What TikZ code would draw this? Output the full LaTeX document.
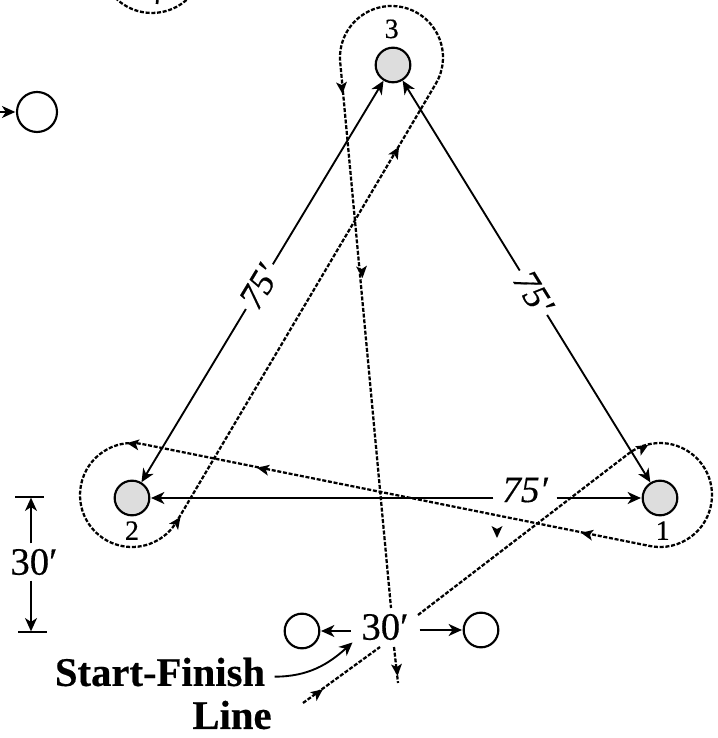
\documentclass[tikz,border=0pt]{standalone}
\usepackage{fontspec}
\setmainfont{Liberation Serif}[FakeBold=0.4]
\usepackage{tikz}
\usetikzlibrary{arrows.meta, positioning}
\definecolor{conegray}{RGB}{221,221,221}
\tikzset{
  cone/.style={circle, draw=black, fill=conegray, line width=1.6pt, minimum size=26pt, inner sep=0pt},
  gate/.style={circle, draw=black, fill=white, line width=1.6pt, minimum size=26pt, inner sep=0pt},
  conelabel/.style={font=\fontsize{21}{21}\selectfont, inner sep=0pt},
  lengthlabel/.style={font=\fontsize{29}{29}\selectfont, inner xsep=8pt, inner ysep=4pt},
  baselabel/.style={font=\fontsize{28}{28}\selectfont\itshape, inner xsep=6.5pt, inner ysep=4pt},
  slopedlabel/.style={font=\fontsize{27}{27}\selectfont\itshape, inner xsep=3pt, inner ysep=0pt, fill=white, sloped},
  boldlabel/.style={font=\fontsize{30.5}{30.5}\selectfont\bfseries, inner sep=0pt},
  dimline/.style={line width=1.4pt},
  dimarrow/.style={-{Stealth[length=10pt, width=9pt, inset=3pt]}, line width=1.4pt, shorten >=0.5pt},
  bothways/.style={{Stealth[length=10pt, width=9pt, inset=3pt]}-{Stealth[length=10pt, width=9pt, inset=3pt]}, line width=1.4pt},
  route/.style={line width=1.7pt, dash pattern=on 3pt off 1.3pt},
  routetip/.pic={\fill (6,0) -- (-6,5.5) -- (-3,0) -- (-6,-5.5) -- cycle;}
}
\begin{document}
\begin{tikzpicture}[x=0.75pt, y=0.75pt]

  \useasboundingbox (0,0) rectangle (717,738);
  \clip (0,0) rectangle (717,738);

  % Cones
  \node[cone] (coneA) at (660,240) {};
  \node[cone] (coneB) at (132,240) {};
  \node[cone] (coneC) at (393,673) {};
  \node[conelabel, below=3.5pt of coneA, xshift=2pt] {1};
  \node[conelabel, below=3.5pt of coneB] {2};
  \node[conelabel, above=6pt of coneC, xshift=-1pt] {3};

  % Gates
  \node[gate, minimum size=30pt] (gateL) at (37,626) {};
  \node[gate] (gateS) at (302,107) {};
  \node[gate] (gateT) at (481,108) {};
  \coordinate (gateTail) at (0,626);
  \draw[dimarrow] (gateTail) -- (gateL);

  % 75 foot sides
  \draw[bothways] (coneC) -- node[slopedlabel, pos=0.513] (sideLeft) {75′} (coneB);
  \draw[bothways] (coneC) -- node[slopedlabel, pos=0.528] (sideRight) {75′} (coneA);
  \node[baselabel] (sideBase) at (525,248) {75′};
  \draw[dimarrow] (sideBase.west |- coneB) -- (coneB);
  \draw[dimarrow] (sideBase.east |- coneA) -- (coneA);

  % 30 foot dimension on the left
  \coordinate (barTopL) at (15,241);
  \coordinate (barTopR) at (44,241);
  \coordinate (barBotL) at (18,106);
  \coordinate (barBotR) at (47,106);
  \node[lengthlabel, inner xsep=2pt] (dimLabel) at (34,176) {30′};
  \draw[dimline] (barTopL) -- (barTopR);
  \draw[dimline] (barBotL) -- (barBotR);
  \draw[dimarrow] (dimLabel.north -| 31,0) -- (31,241);
  \draw[dimarrow] (dimLabel.south -| 31,0) -- (31,106);

  % 30 foot gate width
  \node[lengthlabel] (gateLabel) at (385,111) {30′};
  \draw[dimarrow] (gateLabel.west |- gateS) -- (gateS);
  \draw[dimarrow] (gateLabel.east |- gateT) -- (gateT);

  % Course
  \draw[route] (303,35) -- (380,91);
  \draw[route] (418,123) -- (628.7,284.5)
    arc[start angle=127, end angle=-101.2, radius=52]
    -- (142.1,294)
    arc[start angle=78.8, end angle=329.8, radius=52]
    -- (436,654.6)
    arc[start angle=-30.2, end angle=185.2, radius=51.5]
    -- (391,130);
  \draw[route] (394,91) -- (398,55);

  % Course from the previous cone, cut by the top edge
  \draw[route] (152,777) ++(225:52) arc[start angle=225, end angle=315, radius=52];
  \draw[line width=2pt] (157.5,739) -- (157,734);

  % Direction marks
  \foreach \x/\y/\a in {342/650/-85, 396/586/59.5, 362/466/-85, 397/68/-85,
                        177/216/55, 133/294/172, 263/269/168.7, 587/204/168.7,
                        643/290/30, 318/45/37, 497/206/-90}
    \pic[rotate=\a] at (\x,\y) {routetip};

  % Start-Finish label
  \node[boldlabel] (startLabel) at (160,66) {Start-Finish};
  \node[boldlabel] (lineLabel) at (232,23) {Line};
  \coordinate (startEnd) at (353,96);
  \draw[dimarrow] ([xshift=7pt, yshift=-3.5pt]startLabel.east) to[out=0, in=222] (startEnd);

\end{tikzpicture}
\end{document}
